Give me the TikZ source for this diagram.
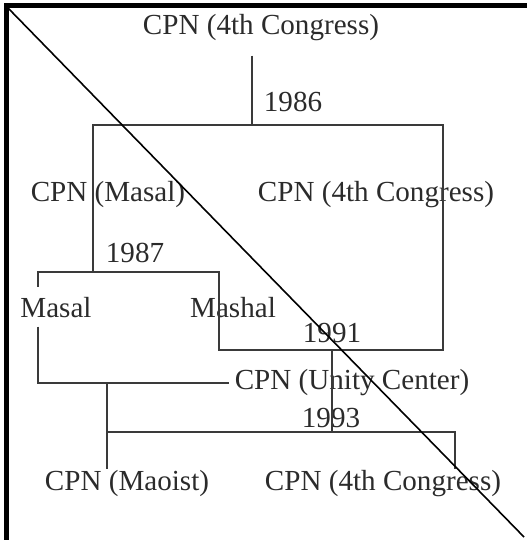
\documentclass[tikz,border=0pt]{standalone}
\usepackage{fontspec}
\setmainfont{Liberation Serif}
\usetikzlibrary{calc,positioning}
\definecolor{inkgray}{HTML}{2B2B2B}
\definecolor{linegray}{HTML}{3A3A3A}
\tikzset{%
    party/.style={%
        font=\fontsize{14.55}{17}\selectfont, text=inkgray, inner sep=0pt, anchor=base
    },
    year/.style={%
        party
    },
    link/.style={%
        draw=linegray, line width=0.7pt
    },
    slash/.style={%
        draw=black, line width=0.8pt
    },
    frame/.style={%
        draw=black, line width=2.6pt
    },
}
\begin{document}
\begin{tikzpicture}[x=0.5pt,y=-0.5pt]

    \useasboundingbox (0,0) rectangle (527,540);

    % parties and years
    \node[party] (cpnTop) at (261,35) {CPN (4th Congress)};
    \node[year] (y1986) at (293,112) {1986};
    \node[party] (cpnMasal) at (108,201) {CPN (Masal)};
    \node[party] (cpnFourth) at (376,201) {CPN (4th Congress)};
    \node[year] (y1987) at (135,262) {1987};
    \node[party, inner ysep=4.5pt] (masal) at (56,317) {Masal};
    \node[party] (mashal) at (233,317) {Mashal};
    \node[year] (y1991) at (332,342) {1991};
    \node[party, inner xsep=2.75pt] (unity) at (352,389) {CPN (Unity Center)};
    \node[year] (y1993) at (331,427) {1993};
    \node[party] (maoist) at (127,490) {CPN (Maoist)};
    \node[party] (cpnLast) at (383,490) {CPN (4th Congress)};

    % junctions
    \coordinate (j86) at (252,125);
    \coordinate (boxL) at (93,125);
    \coordinate (boxR) at (443,125);
    \coordinate (j87) at (93,272);
    \coordinate (splitL) at (38,272);
    \coordinate (splitR) at (219,272);
    \coordinate (boxBL) at (219,350);
    \coordinate (boxBR) at (443,350);
    \coordinate (j91) at (332,350);
    \coordinate (mergeL) at (38,383);
    \coordinate (j93L) at (107,383);
    \coordinate (j93) at (332,432);
    \coordinate (j93R) at (455,432);

    \draw[link] ([yshift=-7pt]cpnTop.south -| j86) -- (j86);
    \draw[link] (j87) -- (boxL) -- (boxR) -- (boxBR) -- (boxBL) -- (splitR) -- (splitL) -- (splitL |- masal.north);
    \draw[link] (masal.south -| splitL) -- (mergeL) -- (mergeL -| unity.west);
    \draw[link] (j91) -- (j93);
    \draw[link] (j93L) -- (j93L |- maoist.north);
    \draw[link] (j93L |- j93) -- (j93R) -- (j93R |- cpnLast.north);

    % crossing out
    \coordinate (slashA) at (8,8);
    \coordinate (slashB) at (524,537);
    \draw[slash] (slashA) -- (slashB);
    \draw[frame] (6.5,540) -- (6.5,5.5) -- (527,5.5);

\end{tikzpicture}
\end{document}
